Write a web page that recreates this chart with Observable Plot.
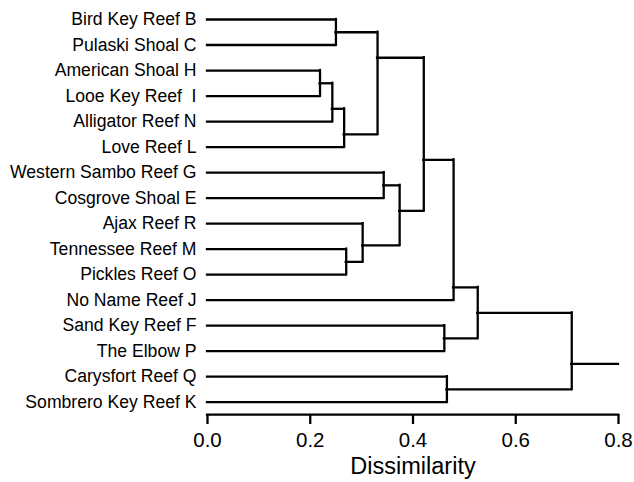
<!DOCTYPE html>
<html>
<head>
<meta charset="utf-8">
<script src="https://cdn.jsdelivr.net/npm/d3@7"></script>
<script src="https://cdn.jsdelivr.net/npm/@observablehq/plot@0.6"></script>
<style>
  html, body { margin: 0; padding: 0; background: #fff; }
  #chart svg { display: block; }
</style>
</head>
<body>
<div id="chart"></div>
<script>
// Leaves, top to bottom
const leaves = [
  "Bird Key Reef B", "Pulaski Shoal C", "American Shoal H", "Looe Key Reef\u00a0 I",
  "Alligator Reef N", "Love Reef L", "Western Sambo Reef G", "Cosgrove Shoal E",
  "Ajax Reef R", "Tennessee Reef M", "Pickles Reef O", "No Name Reef J",
  "Sand Key Reef F", "The Elbow P", "Carysfort Reef Q", "Sombrero Key Reef K"
];
// Merges (hclust style: negative = leaf number, positive = earlier merge number)
const mergeLeft   = [-3,   1,   -1,   2,  -10,  -9,   3,  -7,   8,  7,  -13, -15, 10,  13,  14];
const mergeRight  = [-4,  -5,   -2,  -6, -11,   5,   4,  -8,   6,  9,  -14, -16, -12, 11,  12];
const mergeHeight = [0.219, 0.243, 0.250, 0.266, 0.270, 0.302, 0.331, 0.343, 0.374, 0.421, 0.461, 0.466, 0.479, 0.526, 0.709];
// Vertical position of each merge node, in leaf rows
const mergeRow    = [2.5, 3.5, 0.5, 4.5, 9.5, 8.85, 1.5, 6.5, 7.5, 5.5, 12.5, 14.5, 10.5, 11.5, 13.5];
const xTicks = [0, 0.2, 0.4, 0.6, 0.8];
const xMax = 0.8;
const xLabel = "Dissimilarity";

const font = "'Liberation Sans', Arial, Helvetica, sans-serif";

function childPos(c) {
  if (c < 0) return {x: 0, y: -c - 1};
  return {x: mergeHeight[c - 1], y: mergeRow[c - 1]};
}
const horiz = [];
const vert = [];
mergeHeight.forEach((h, k) => {
  const a = childPos(mergeLeft[k]);
  const b = childPos(mergeRight[k]);
  horiz.push({x1: a.x, x2: h, y: a.y});
  horiz.push({x1: b.x, x2: h, y: b.y});
  vert.push({x: h, y1: a.y, y2: b.y});
});
const last = mergeHeight.length - 1;
horiz.push({x1: mergeHeight[last], x2: xMax, y: mergeRow[last]});

const chart = Plot.plot({
  width: 634,
  height: 482,
  marginLeft: 207,
  marginRight: 16,
  marginTop: 10,
  marginBottom: 68,
  style: {fontFamily: font, color: "#000", background: "#fff"},
  x: {domain: [0, xMax]},
  y: {domain: [0, leaves.length - 1], range: [19, 401.7], axis: null},
  marks: [
    Plot.ruleY(horiz, {x1: "x1", x2: "x2", y: "y", stroke: "#000", strokeWidth: 2.3, strokeLinecap: "square"}),
    Plot.ruleX(vert, {x: "x", y1: "y1", y2: "y2", stroke: "#000", strokeWidth: 2.3, strokeLinecap: "square"}),
    Plot.text(leaves, {x: () => 0, y: (d, i) => i, text: d => d, textAnchor: "end", dx: -11, fontSize: 17.6, fill: "#000", style: {letterSpacing: "0.4px"}}),
    // axis baseline, just below the last leaf
    Plot.ruleY([leaves.length - 1], {x1: 0, x2: xMax, dy: 12.5, stroke: "#000", strokeWidth: 2.3, strokeLinecap: "square"}),
    Plot.axisX({ticks: xTicks, tickFormat: d3.format(".1f"), tickSize: 10, tickPadding: 8, fontSize: 20.5, label: null, stroke: "#000", strokeWidth: 2.3}),
    Plot.text([xLabel], {frameAnchor: "bottom", dy: 59, fontSize: 23.5, fill: "#000"})
  ]
});
document.getElementById("chart").appendChild(chart);
</script>
</body>
</html>
